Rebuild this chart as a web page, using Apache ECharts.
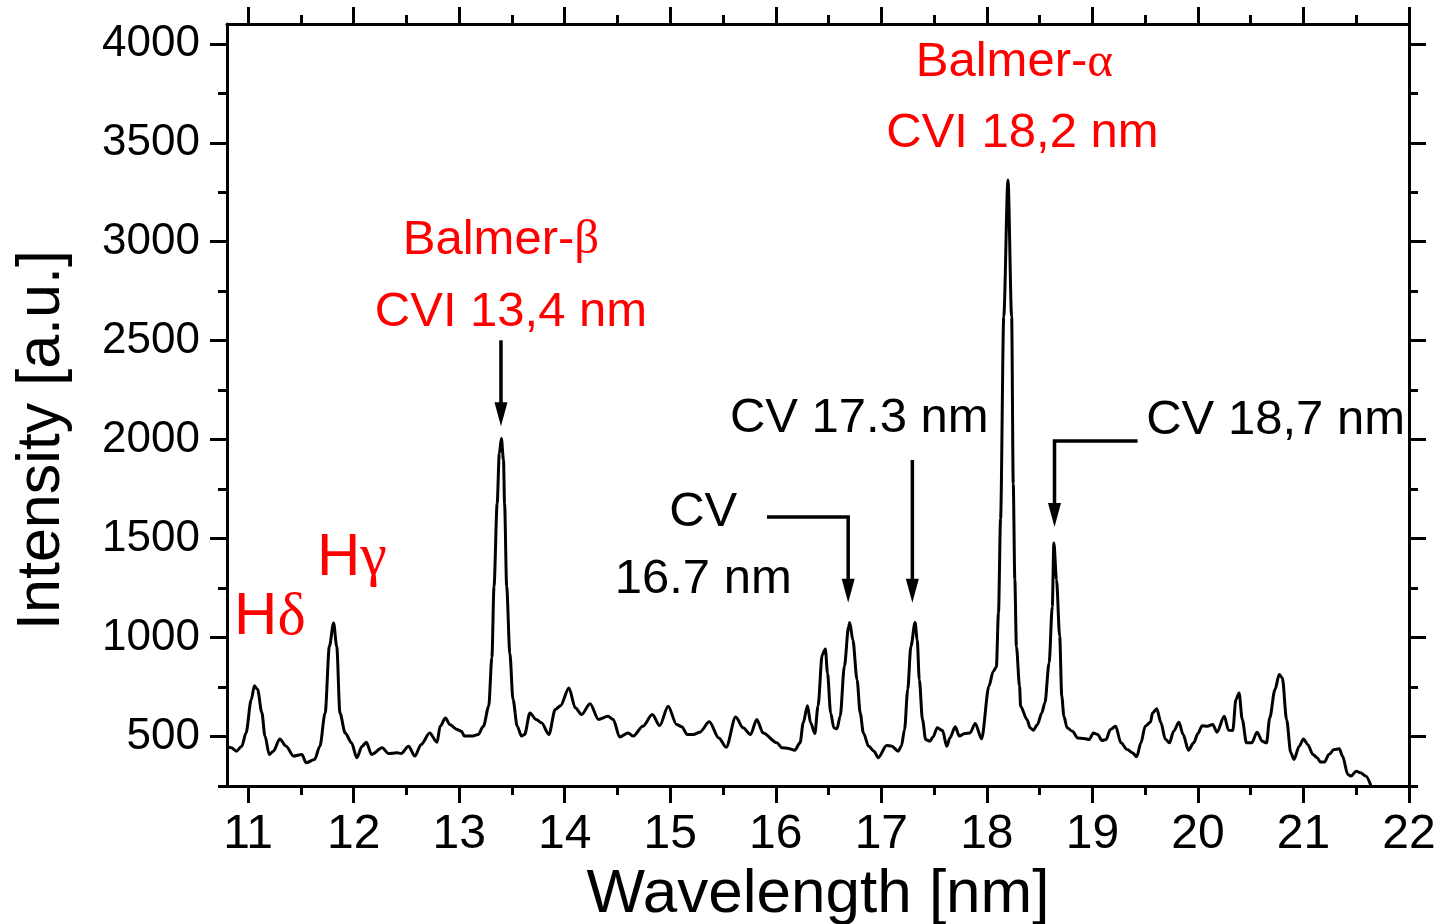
<!DOCTYPE html>
<html><head><meta charset="utf-8">
<script src="https://cdn.jsdelivr.net/npm/echarts@6/dist/echarts.min.js"></script>
<style>html,body{margin:0;padding:0;background:#fff}#chart{width:1441px;height:924px}</style>
</head><body><div id="chart"></div>
<script>
// ---- data ----
const wavelength = [
10.80,10.84,10.89,10.94,10.98,11.03,11.06,11.09,11.13,11.16,11.20,11.24,11.30,11.36,11.43,11.51,11.55,11.63,11.68,11.73,
11.77,11.81,11.84,11.87,11.92,11.98,12.03,12.08,12.12,12.17,12.27,12.33,12.41,12.45,12.52,12.58,12.64,12.72,12.79,12.82,
12.87,12.91,12.98,13.02,13.05,13.12,13.18,13.23,13.28,13.31,13.33,13.36,13.38,13.40,13.42,13.43,13.45,13.48,13.51,13.55,
13.59,13.62,13.67,13.73,13.78,13.85,13.91,13.96,14.04,14.10,14.16,14.24,14.32,14.41,14.46,14.52,14.60,14.65,14.74,14.83,
14.90,14.98,15.06,15.11,15.16,15.22,15.28,15.37,15.46,15.53,15.62,15.69,15.76,15.82,15.88,16.01,16.06,16.12,16.18,16.23,
16.26,16.30,16.33,16.37,16.40,16.44,16.47,16.49,16.52,16.55,16.58,16.61,16.65,16.69,16.70,16.73,16.77,16.80,16.83,16.88,
16.93,16.97,17.05,17.10,17.16,17.19,17.22,17.25,17.28,17.32,17.34,17.36,17.39,17.42,17.46,17.49,17.53,17.58,17.62,17.65,
17.70,17.74,17.79,17.84,17.89,17.95,18.02,18.06,18.09,18.11,18.13,18.16,18.20,18.235,18.25,18.265,18.28,18.31,18.32,18.38,
18.41,18.44,18.48,18.52,18.55,18.59,18.62,18.635,18.66,18.69,18.71,18.73,18.76,18.81,18.86,18.92,18.97,19.01,19.05,19.09,
19.13,19.17,19.22,19.27,19.33,19.38,19.42,19.46,19.50,19.55,19.57,19.61,19.65,19.69,19.73,19.77,19.82,19.86,19.91,19.96,
20.00,20.04,20.09,20.14,20.18,20.25,20.29,20.33,20.36,20.39,20.42,20.46,20.51,20.56,20.61,20.65,20.68,20.73,20.77,20.80,
20.84,20.88,20.91,20.96,21.00,21.04,21.09,21.13,21.16,21.20,21.24,21.29,21.34,21.37,21.42,21.45,21.50,21.54,21.59,21.64
];
const intensity = [
451,443,426,451,518,687,757,737,621,502,409,426,488,451,401,409,367,384,451,619,
955,1073,955,619,518,468,393,451,471,409,443,414,418,414,451,401,460,518,471,552,
594,561,535,527,502,502,510,552,653,900,1258,1678,1930,2006,1896,1679,1258,922,687,552,
502,510,619,586,569,510,636,656,745,645,611,666,586,602,586,498,518,502,552,611,
555,653,561,549,510,510,522,574,493,446,599,544,510,586,518,468,443,440,431,468,
569,656,569,515,653,913,942,821,619,544,539,602,855,1056,1076,989,787,619,518,451,
426,393,455,451,426,451,535,737,955,1076,989,787,586,485,476,498,544,530,451,493,
549,502,515,518,566,488,754,829,851,1124,1600,2620,3312,2620,1779,1292,955,754,653,586,
544,532,561,619,670,872,1157,1478,1292,1006,703,602,544,527,493,490,485,518,510,480,
485,535,552,468,434,418,398,468,552,572,619,640,569,488,468,527,572,510,431,468,
515,555,552,561,522,602,532,530,687,720,586,468,468,522,476,468,594,737,813,796,
586,418,384,451,488,460,409,393,371,371,409,434,438,401,308,300,325,317,300,250
];
const xMajorTicks = [11,12,13,14,15,16,17,18,19,20,21,22];
const xMinorTicks = [11.5,12.5,13.5,14.5,15.5,16.5,17.5,18.5,19.5,20.5,21.5];
const yMajorTicks = [500,1000,1500,2000,2500,3000,3500,4000];
const yMinorTicks = [250,750,1250,1750,2250,2750,3250,3750];
const annotationTexts = ['Balmer-{g|α}','CVI 18,2 nm','Balmer-{g|β}','CVI 13,4 nm','H{g|γ}','H{g|δ}','CV 17.3 nm','CV 18,7 nm','CV','16.7 nm'];

// ---- chart ----
const FONT = "'Liberation Sans', Arial, sans-serif";
const SERIF = "'Liberation Serif', 'DejaVu Serif', serif";
const RED = '#ff0000';
const chart = echarts.init(document.getElementById('chart'), null, {renderer:'canvas'});
const plainFmt = function(v){ return String(v); };

function xAx(pos, ticks, len, withLine, withLabel) {
  return {
    type:'value', min:10.8, max:22, position:pos, gridIndex:0,
    axisLine:{show:withLine, onZero:false, lineStyle:{color:'#000', width:3}},
    axisTick:{show:true, inside:false, length:len, customValues:ticks, lineStyle:{color:'#000', width:3}},
    axisLabel:{show:withLabel, customValues:ticks, formatter:plainFmt, color:'#000', fontSize:48, fontFamily:FONT, margin:25},
    splitLine:{show:false}, minorTick:{show:false}
  };
}
function yAx(pos, ticks, len, withLine, withLabel) {
  return {
    type:'value', min:250, max:4100, position:pos, gridIndex:0,
    axisLine:{show:withLine, onZero:false, lineStyle:{color:'#000', width:3}},
    axisTick:{show:true, inside:false, length:len, customValues:ticks, lineStyle:{color:'#000', width:3}},
    axisLabel:{show:withLabel, customValues:ticks, formatter:plainFmt, color:'#000', fontSize:44, fontFamily:FONT, margin:27},
    splitLine:{show:false}, minorTick:{show:false}
  };
}

const xAxes = [
  Object.assign(xAx('bottom', xMajorTicks, 17, true, true), {
    name:'Wavelength [nm]', nameLocation:'middle', nameGap:77,
    nameTextStyle:{color:'#000', fontSize:62, fontFamily:FONT}
  }),
  xAx('bottom', xMinorTicks, 9, false, false),
  xAx('top', xMajorTicks, 17, true, false),
  xAx('top', xMinorTicks, 9, false, false)
];
const yAxes = [
  Object.assign(yAx('left', yMajorTicks, 17, true, true), {
    name:'Intensity [a.u.]', nameLocation:'middle', nameGap:154,
    nameTextStyle:{color:'#000', fontSize:61, fontFamily:FONT, padding:[0,70,0,0]}
  }),
  yAx('left', yMinorTicks, 9, false, false),
  yAx('right', yMajorTicks, 17, true, false),
  yAx('right', yMinorTicks, 9, false, false)
];

function lbl(i, x, y, color, size) {
  return {
    value:[x, y],
    label:{show:true, position:'inside', align:'center', verticalAlign:'middle',
      formatter:annotationTexts[i], color:color, fontSize:size, fontFamily:FONT, opacity:1,
      rich:{g:{fontFamily:SERIF, fontSize:size, color:color}}}
  };
}
const annotationData = [
  lbl(0, 18.261, 3904, RED, 49),
  lbl(1, 18.337, 3546, RED, 49),
  lbl(2, 13.396, 3006, RED, 49),
  lbl(3, 13.491, 2643, RED, 49),
  lbl(4, 11.983, 1400, RED, 60),
  lbl(5, 11.206, 1100, RED, 60),
  lbl(6, 16.791, 2109, '#000', 49),
  lbl(7, 20.736, 2099, '#000', 49),
  lbl(8, 15.312, 1630, '#000', 49),
  lbl(9, 15.312, 1292, '#000', 49)
];

const arrowPaths = [
  [[13.396, 2502], [13.396, 2068]],
  [[17.294, 1897], [17.294, 1176]],
  [[15.917, 1609], [16.686, 1609], [16.686, 1176]],
  [[19.428, 1993], [18.641, 1993], [18.641, 1559]]
];

const option = {
  backgroundColor:'#fff',
  animation:false,
  grid:{left:227, right:32, top:24, bottom:138, containLabel:false, outerBoundsMode:'none'},
  xAxis:xAxes,
  yAxis:yAxes,
  series:[
    {
      type:'line', xAxisIndex:0, yAxisIndex:0,
      data:wavelength.map((w,i)=>[w, intensity[i]]),
      showSymbol:false, symbol:'none', smooth:0.3, smoothMonotone:'x',
      lineStyle:{color:'#000', width:3}, z:3
    },
    {
      type:'custom', xAxisIndex:0, yAxisIndex:0, silent:true, clip:false, z:4,
      data:arrowPaths.map((p,i)=>[p[p.length-1][0], p[p.length-1][1], i]),
      encode:{x:0, y:1},
      renderItem:function(params, api){
        const pts = arrowPaths[params.dataIndex].map(p=>api.coord(p));
        const tip = pts[pts.length-1], prev = pts[pts.length-2];
        const dx = tip[0]-prev[0], dy = tip[1]-prev[1];
        const len = Math.hypot(dx, dy), ux = dx/len, uy = dy/len;
        const L = 24, W = 6.5;
        const base = [tip[0]-ux*L, tip[1]-uy*L];
        const linePts = pts.slice(0,-1).concat([[tip[0]-ux*L*0.7, tip[1]-uy*L*0.7]]);
        return {type:'group', children:[
          {type:'polyline', shape:{points:linePts}, style:{stroke:'#000', lineWidth:3.5, fill:null, lineJoin:'miter'}},
          {type:'polygon', shape:{points:[tip, [base[0]-uy*W, base[1]+ux*W], [base[0]+uy*W, base[1]-ux*W]]}, style:{fill:'#000'}}
        ]};
      }
    },
    {
      type:'scatter', xAxisIndex:0, yAxisIndex:0, silent:true, z:5,
      symbolSize:1, itemStyle:{color:'rgba(0,0,0,0)'},
      labelLayout:{hideOverlap:false},
      data:annotationData
    }
  ]
};
chart.setOption(option);
</script>
</body></html>
